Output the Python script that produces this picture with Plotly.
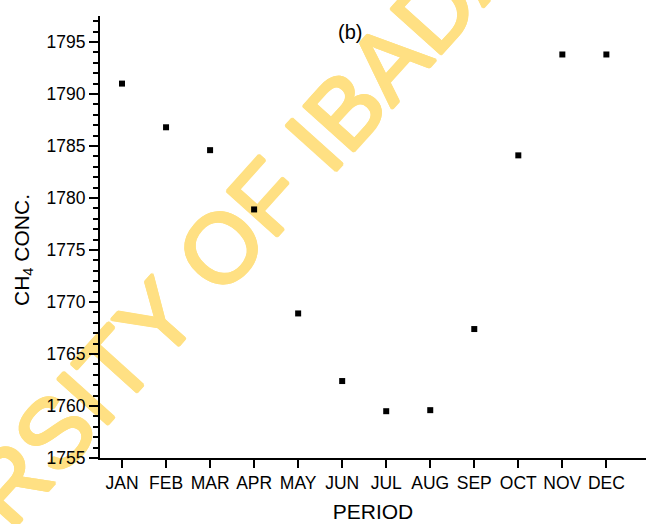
import plotly.graph_objects as go

# Monthly mean methane concentration
months = ["JAN", "FEB", "MAR", "APR", "MAY", "JUN",
          "JUL", "AUG", "SEP", "OCT", "NOV", "DEC"]
ch4_conc = [1791.0, 1786.8, 1784.6, 1778.9, 1768.9, 1762.4,
            1759.5, 1759.6, 1767.4, 1784.1, 1793.8, 1793.8]

y_range = [1755, 1797.5]
x_range = [-0.5, 11.9]

FONT = "Arial, Liberation Sans, sans-serif"
WM_COLOR = "#FFE083"

fig = go.Figure()
fig.add_trace(go.Scatter(
    x=months, y=ch4_conc, mode="markers",
    marker=dict(symbol="square", size=6, color="black", line=dict(width=0)),
    showlegend=False,
))

# a thin same-colour halo thickens the watermark strokes a little
halo = ", ".join(f"{dx}px {dy}px 0 {WM_COLOR}"
                 for dx, dy in [(1.5, 0), (-1.5, 0), (0, 1.5), (0, -1.5),
                                (1, 1), (-1, -1), (1, -1), (-1, 1)])

fig.update_layout(
    width=646, height=524,
    margin=dict(l=100, r=0, t=16, b=66),
    paper_bgcolor="white", plot_bgcolor="white",
    font=dict(family=FONT, color="black"),
    xaxis=dict(
        type="category", range=x_range,
        showline=True, linecolor="black", linewidth=2,
        ticks="outside", ticklen=8, tickwidth=2, tickcolor="black",
        showgrid=False, zeroline=False,
        tickfont=dict(size=17.5, family=FONT),
        title=dict(text="PERIOD", font=dict(size=21, family=FONT), standoff=12),
    ),
    yaxis=dict(
        range=y_range, tick0=1755, dtick=5,
        showline=True, linecolor="black", linewidth=2,
        ticks="outside", ticklen=9, tickwidth=2, tickcolor="black",
        minor=dict(dtick=1, ticks="outside", ticklen=5, tickwidth=1.5,
                   tickcolor="black", showgrid=False),
        showgrid=False, zeroline=False,
        tickfont=dict(size=17.5, family=FONT),
    ),
    annotations=[
        dict(text="(b)", xref="paper", yref="paper",
             x=(350 - 100) / 546, y=(458 - 32) / 442,
             xanchor="center", yanchor="middle",
             showarrow=False, font=dict(size=20, family=FONT)),
        dict(text="CH<sub>4</sub> CONC.", xref="paper", yref="paper",
             x=(23 - 100) / 546, y=(458 - 250) / 442, textangle=-90,
             xanchor="center", yanchor="middle",
             showarrow=False, font=dict(size=21, family=FONT)),
    ],
    # watermark drawn beneath the data
    shapes=[
        dict(type="rect", xref="paper", yref="paper",
             x0=0.1054, x1=0.1154, y0=0.3486, y1=0.3586,
             line=dict(width=0), fillcolor="rgba(0,0,0,0)", layer="below",
             label=dict(text="UNIVERSITY OF IBADAN", textangle=-48,
                        textposition="middle center",
                        font=dict(size=98, color=WM_COLOR, family=FONT,
                                  shadow=halo))),
    ],
)

fig.write_html("out.html")
